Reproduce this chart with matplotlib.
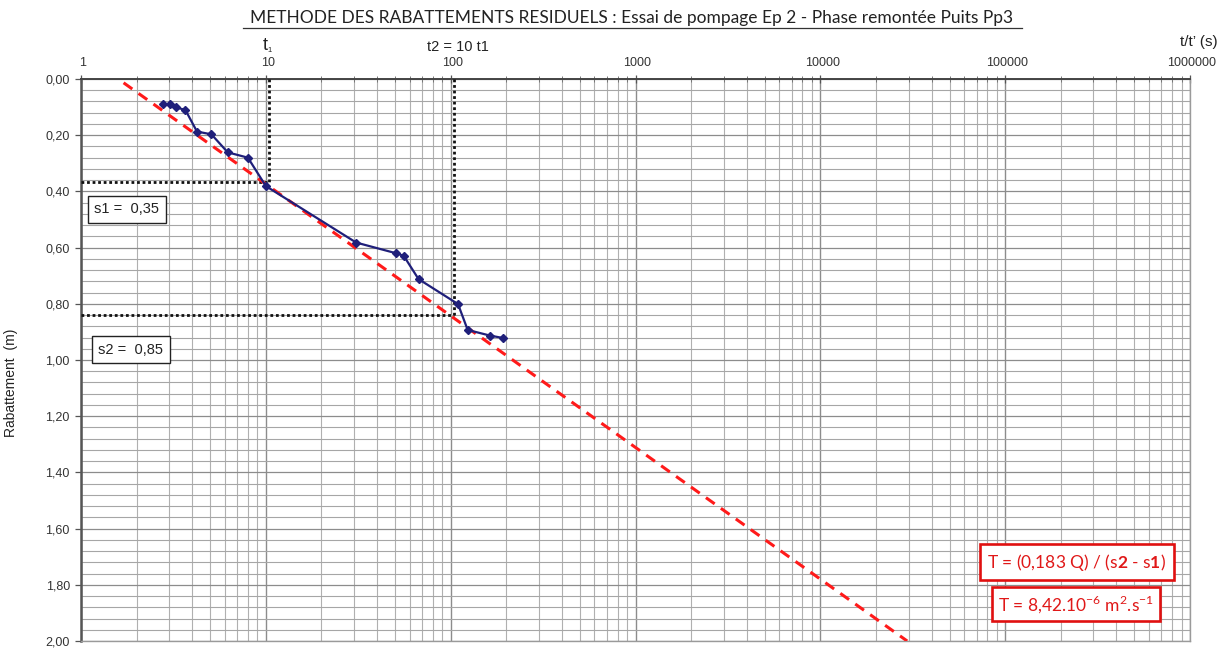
import matplotlib
matplotlib.use("Agg")
import matplotlib.pyplot as plt
import matplotlib.transforms as mtransforms
from matplotlib.ticker import FixedLocator, FuncFormatter, LogLocator, NullFormatter, MultipleLocator

plt.rcParams['font.family'] = ['Liberation Sans', 'DejaVu Sans']
plt.rcParams['mathtext.fontset'] = 'custom'
plt.rcParams['mathtext.rm'] = 'Lato'
plt.rcParams['mathtext.bf'] = 'Lato:bold'

# Residual drawdown measurements (t/t' in s, drawdown in m)
t_ratio = [2.78, 3.03, 3.26, 3.67, 4.24, 5.08, 6.22, 8.0, 10.0,
           30.8, 50.6, 55.7, 67.0, 109.6, 123.6, 163.0, 193.0]
drawdown = [0.090, 0.090, 0.101, 0.110, 0.187, 0.197, 0.261, 0.280, 0.381,
            0.582, 0.620, 0.629, 0.712, 0.801, 0.893, 0.913, 0.922]

# Straight-line fit on the semi-log plot
fit_t = [1.70, 29500.0]
fit_s = [0.0135, 2.00]

# Construction lines for t1 / t2 = 10 t1
t1, t2 = 10.4, 104.0
s1_read, s2_read = 0.367, 0.840

x_ticks = [1, 10, 100, 1000, 10000, 100000, 1000000]
y_major = [0.0, 0.2, 0.4, 0.6, 0.8, 1.0, 1.2, 1.4, 1.6, 1.8, 2.0]

fig = plt.figure(figsize=(12.3, 6.48), dpi=100)
ax = fig.add_axes([81 / 1230, 1 - 641 / 648, 1109 / 1230, 562 / 648])

ax.set_xscale('log')
ax.set_xlim(1, 1e6)
ax.set_ylim(2.0, 0.0)

# Axis ticks and labels
ax.xaxis.tick_top()
ax.xaxis.set_major_locator(FixedLocator(x_ticks))
ax.xaxis.set_major_formatter(FuncFormatter(lambda v, p: f"{int(round(v))}"))
ax.xaxis.set_minor_locator(LogLocator(base=10, subs=range(2, 10), numticks=100))
ax.xaxis.set_minor_formatter(NullFormatter())
ax.yaxis.set_major_locator(FixedLocator(y_major))
ax.yaxis.set_major_formatter(FuncFormatter(lambda v, p: f"{v:.2f}".replace('.', ',')))
ax.yaxis.set_minor_locator(MultipleLocator(0.04))

ax.tick_params(axis='x', which='major', direction='inout', length=6, width=0.9,
               color='#555555', labelsize=9, labelcolor='#333333', pad=4)
ax.tick_params(axis='x', which='minor', direction='inout', length=5, width=0.7,
               color='#777777')
ax.tick_params(axis='y', which='major', direction='out', length=4, width=0.9,
               color='#555555', labelsize=9, labelcolor='#333333', pad=4)
ax.tick_params(axis='y', which='minor', length=0)

offset = mtransforms.ScaledTranslation(2 / 100, 0, fig.dpi_scale_trans)
for lab in ax.get_xticklabels():
    lab.set_transform(lab.get_transform() + offset)

# Grid
ax.grid(True, which='major', axis='x', color='#8c8c8c', lw=1.0)
ax.grid(True, which='minor', axis='x', color='#b0b0b0', lw=0.8)
ax.grid(True, which='major', axis='y', color='#8c8c8c', lw=0.9)
ax.grid(True, which='minor', axis='y', color='#a6a6a6', lw=0.8)
ax.set_axisbelow(True)

for side, sp in ax.spines.items():
    sp.set_color('#9a9a9a')
    sp.set_linewidth(1.0)
ax.spines['left'].set_color('#555555')
ax.spines['left'].set_linewidth(1.8)
ax.spines['top'].set_color('#444444')
ax.spines['top'].set_linewidth(1.4)

ax.set_ylabel('Rabattement  (m)', fontsize=10, color='#222222')
ax.yaxis.set_label_coords(-0.057, 0.46)

# Construction dotted lines
dot = dict(color='#111111', lw=2.0, linestyle=(0, (1, 1)), zorder=3, clip_on=False)
ax.plot([1, t1], [s1_read, s1_read], **dot)
ax.plot([t1, t1], [0.0, s1_read], **dot)
ax.plot([1, t2], [s2_read, s2_read], **dot)
ax.plot([t2, t2], [0.0, s2_read], **dot)

# Fit line
ax.plot(fit_t, fit_s, color='#ff1a1a', lw=2.2, linestyle=(0, (3.5, 2.5)), zorder=4)

# Measurements
ax.plot(t_ratio, drawdown, color='#1f1f7a', lw=1.6, marker='D', markersize=4.2,
        markerfacecolor='#1f1f7a', markeredgecolor='#1f1f7a', zorder=5)

# Read-off boxes
box_k = dict(boxstyle='square,pad=0.45', facecolor='white', edgecolor='#222222', lw=1.0)
ax.text(1.77, 0.464, 's1 =  0,35', fontsize=10.5, ha='center', va='center',
        color='#222222', bbox=box_k, zorder=6)
ax.text(1.86, 0.963, 's2 =  0,85', fontsize=10.5, ha='center', va='center',
        color='#222222', bbox=box_k, zorder=6)

# Transmissivity boxes
tr = ax.get_yaxis_transform()
box_r1 = dict(boxstyle='square,pad=0.45', facecolor='white', edgecolor='#e01010', lw=1.9)
box_r2 = dict(boxstyle='square,pad=0.35', facecolor='white', edgecolor='#e01010', lw=1.9)
ax.text(0.898, 1.719, r'T = (0,183 Q) / (s$\mathbf{2}$ - s$\mathbf{1}$)',
        transform=tr, fontsize=12.5, family='Lato', ha='center', va='center',
        color='#e01818', bbox=box_r1, zorder=6)
ax.text(0.897, 1.870, r'T = 8,42.10$^{-6}$ m$^{2}$.s$^{-1}$',
        transform=tr, fontsize=12.5, family='Lato', ha='center', va='center',
        color='#e01818', bbox=box_r2, zorder=6)

# Titles and annotations above the axes
fig.text(632 / 1230, 1 - 18 / 648,
         'METHODE DES RABATTEMENTS RESIDUELS : Essai de pompage Ep 2 - Phase remontée Puits Pp3',
         fontsize=12.5, family='Lato', ha='center', va='center', color='#222222')
fig.add_artist(plt.Line2D([243 / 1230, 1022 / 1230], [1 - 28 / 648, 1 - 28 / 648],
                          color='#333333', lw=0.9))
fig.text(265 / 1230, 1 - 46 / 648, 't', fontsize=13, ha='center', va='center', color='#222222')
fig.text(270 / 1230, 1 - 51 / 648, '1', fontsize=5.5, ha='center', va='center', color='#222222')
fig.text(458 / 1230, 1 - 47 / 648, 't2 = 10 t1', fontsize=10.5, ha='center', va='center',
         color='#222222')
fig.text(1218 / 1230, 1 - 42 / 648, 't/t’ (s)', fontsize=11, ha='right', va='center',
         color='#222222')

fig.savefig('out.png', dpi=100)
